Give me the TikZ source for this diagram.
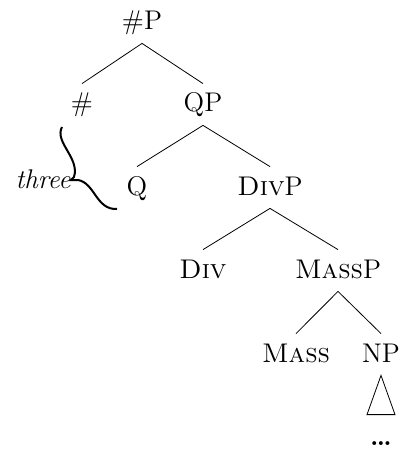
\documentclass[tikz,border=0pt]{standalone}
\usetikzlibrary{calc}
\begin{document}
\begin{tikzpicture}[x=0.5pt, y=-0.5pt,
    cat/.style={anchor=base, inner xsep=1pt, inner ysep=5pt,
                text height=9pt, text depth=1.5pt, font=\fontsize{13.5}{16}\selectfont},
    branch/.style={line width=0.4pt}]
    \useasboundingbox (0,0) rectangle (402,449);
    % Tree labels
    \node[cat] (numP)  at (142,30)  {\#P};
    \node[cat] (num)   at (82,112)  {\#};
    \node[cat] (QP)    at (203,112) {QP};
    \node[cat] (Q)     at (137,195) {Q};
    \node[cat] (DivP)  at (270,195) {\textsc{Div}P};
    \node[cat] (Div)   at (203,278) {\textsc{Div}};
    \node[cat] (MassP) at (338,278) {\textsc{Mass}P};
    \node[cat] (Mass)  at (296,362) {\textsc{Mass}};
    \node[cat] (NP)    at (381,362) {NP};
    \node[cat] (dots)  at (381,445) {\textbf{\dots}};
    % Branches
    \draw[branch] (numP.south) -- (num.north);
    \draw[branch] (numP.south) -- (QP.north);
    \draw[branch] (QP.south) -- (Q.north);
    \draw[branch] (QP.south) -- (DivP.north);
    \draw[branch] (DivP.south) -- (Div.north);
    \draw[branch] (DivP.south) -- (MassP.north);
    \draw[branch] (MassP.south) -- (Mass.north);
    \draw[branch] (MassP.south) -- (NP.north);
    % Roof
    \draw[branch] (NP.south) -- ($(dots.north)+(-7pt,1pt)$)
        -- ($(dots.north)+(7pt,1pt)$) -- cycle;
    % Brace for "three"
    \node[anchor=base east, inner sep=0pt, font=\fontsize{13.5}{16}\selectfont\itshape]
        (three) at (71,188) {three};
    \coordinate (braceTop) at (62,127);
    \coordinate (braceTip) at (71,180);
    \coordinate (braceEnd) at (117,209);
    \draw[line width=1pt]
        (braceTop) .. controls (54,142) and (80,158) .. (74,177) -- (braceTip)
        -- (78,180) .. controls (95,183) and (96,210) .. (braceEnd);
\end{tikzpicture}
\end{document}
